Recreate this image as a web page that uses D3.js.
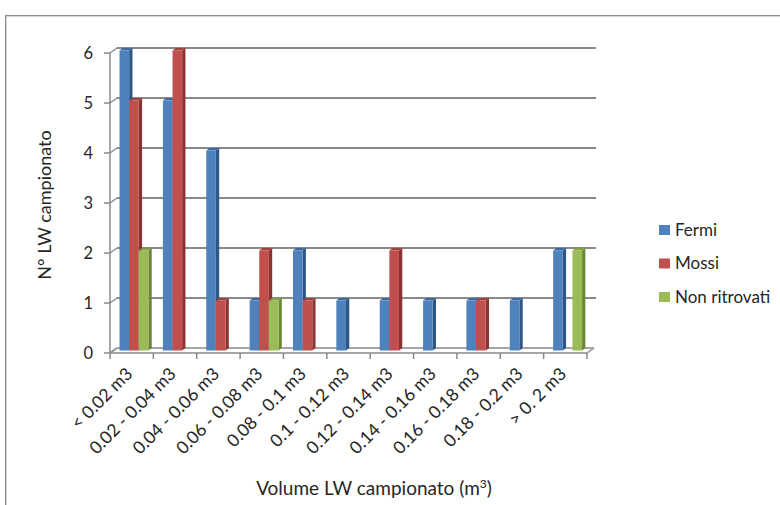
<!DOCTYPE html>
<html>
<head>
<meta charset="utf-8">
<script src="https://cdn.jsdelivr.net/npm/d3@7"></script>
<style>
  html, body { margin: 0; padding: 0; background: #fff; }
  svg { display: block; font-family: Lato, "Open Sans", sans-serif; }
</style>
</head>
<body>
<svg id="chart" width="780" height="505"></svg>
<script>
// Volume classes of sampled large wood
const categories = ["< 0.02 m3", "0.02 - 0.04 m3", "0.04 - 0.06 m3", "0.06 - 0.08 m3",
  "0.08 - 0.1 m3", "0.1 - 0.12 m3", "0.12 - 0.14 m3", "0.14 - 0.16 m3",
  "0.16 - 0.18 m3", "0.18 - 0.2 m3", "> 0. 2 m3"];
const seriesNames = ["Fermi", "Mossi", "Non ritrovati"];
const fermi = [6, 5, 4, 1, 2, 1, 1, 1, 1, 1, 2];
const mossi = [5, 6, 1, 2, 1, 0, 2, 0, 1, 0, 0];
const nonRitrovati = [2, 0, 0, 1, 0, 0, 0, 0, 0, 0, 2];
const yTicks = [0, 1, 2, 3, 4, 5, 6];

const seriesValues = [fermi, mossi, nonRitrovati];
const colors = {
  front: ["#4F81BD", "#C0504D", "#9BBB59"],
  side:  ["#2F5785", "#8A3432", "#6A8636"],
  top:   ["#3D6A9E", "#A1413E", "#80A045"]
};

const svg = d3.select("#chart");

// chart frame
svg.append("rect").attr("x", 5.5).attr("y", 15.5).attr("width", 800).attr("height", 600)
  .attr("fill", "none").attr("stroke", "#8c8c8c").attr("stroke-width", 1);
svg.append("rect").attr("x", 6.5).attr("y", 16.5).attr("width", 800).attr("height", 600)
  .attr("fill", "none").attr("stroke", "#d4d4d4").attr("stroke-width", 1);

// plot geometry
const x = d3.scaleBand().domain(categories).range([110, 587]).padding(0);
const xs = d3.scaleBand().domain(seriesNames).range([0, x.bandwidth()])
  .paddingInner(0).paddingOuter(0.75);
const y = d3.scaleLinear().domain([0, 6]).range([353, 53]);

const wall = { dx: 7, dy: -5 };     // depth of back wall
const shift = { dx: 2.3, dy: -2.5 }; // bars sit inside the depth
const bd = { dx: 3.3, dy: -2.4 };    // bar thickness

const grid = "#8a8a8a";
const x0 = x.range()[0], x1 = x.range()[1];

// back wall gridlines
svg.append("g").selectAll("line").data(yTicks.filter(d => d > 0)).join("line")
  .attr("x1", x0 + wall.dx).attr("x2", x1 + wall.dx + 2)
  .attr("y1", d => y(d) + wall.dy).attr("y2", d => y(d) + wall.dy)
  .attr("stroke", grid).attr("stroke-width", 2);

// floor
const floor = svg.append("g").attr("fill", "none").attr("stroke", "#a6a6a6").attr("stroke-width", 2);
floor.append("line").attr("x1", x0 + wall.dx).attr("x2", x1 + wall.dx)
  .attr("y1", y(0) + wall.dy).attr("y2", y(0) + wall.dy);
floor.append("line").attr("x1", x1).attr("x2", x1 + wall.dx)
  .attr("y1", y(0)).attr("y2", y(0) + wall.dy);
floor.append("line").attr("x1", x0).attr("x2", x0 + wall.dx)
  .attr("y1", y(0)).attr("y2", y(0) + wall.dy);

// y axis with depth connectors
const yAxis = svg.append("g");
yAxis.append("line").attr("x1", x0).attr("x2", x0).attr("y1", y(6)).attr("y2", y(0))
  .attr("stroke", grid).attr("stroke-width", 1.5);
yAxis.selectAll(".tk").data(yTicks).join("line").attr("class", "tk")
  .attr("x1", x0 - 6).attr("x2", x0).attr("y1", d => y(d)).attr("y2", d => y(d))
  .attr("stroke", grid).attr("stroke-width", 1.5);
yAxis.selectAll(".dg").data(yTicks).join("line").attr("class", "dg")
  .attr("x1", x0).attr("x2", x0 + wall.dx).attr("y1", d => y(d)).attr("y2", d => y(d) + wall.dy)
  .attr("stroke", grid).attr("stroke-width", 1.5);
yAxis.selectAll("text").data(yTicks).join("text")
  .attr("x", 93).attr("y", d => y(d)).attr("dy", "0.35em")
  .attr("text-anchor", "end").attr("font-size", 16.5).attr("fill", "#262626")
  .text(d => d);

// bars
const bars = svg.append("g");
categories.forEach((c, i) => {
  seriesNames.forEach((s, j) => {
    const v = seriesValues[j][i];
    if (!v) return;
    const bx = x(c) + xs(s) + shift.dx;
    const bw = xs.bandwidth();
    const top = y(v) + shift.dy;
    const bot = y(0) + shift.dy;
    const g = bars.append("g");
    // side face
    g.append("path")
      .attr("d", `M${bx + bw},${bot} L${bx + bw + bd.dx},${bot + bd.dy} L${bx + bw + bd.dx},${top + bd.dy} L${bx + bw},${top} Z`)
      .attr("fill", colors.side[j]);
    // top face
    g.append("path")
      .attr("d", `M${bx},${top} L${bx + bd.dx},${top + bd.dy} L${bx + bw + bd.dx},${top + bd.dy} L${bx + bw},${top} Z`)
      .attr("fill", colors.top[j]);
    // front face
    g.append("rect").attr("x", bx).attr("y", top).attr("width", bw).attr("height", bot - top)
      .attr("fill", colors.front[j]);
  });
});

// x axis
const xAxis = svg.append("g");
xAxis.append("line").attr("x1", x0).attr("x2", x1).attr("y1", y(0)).attr("y2", y(0))
  .attr("stroke", grid).attr("stroke-width", 1.5);
const bounds = categories.map(c => x(c)).concat([x1]);
xAxis.selectAll(".tk").data(bounds).join("line").attr("class", "tk")
  .attr("x1", d => d).attr("x2", d => d).attr("y1", y(0)).attr("y2", y(0) + 6)
  .attr("stroke", grid).attr("stroke-width", 1.5);
xAxis.selectAll("text").data(categories).join("text")
  .attr("transform", c => `translate(${x(c) + x.bandwidth() / 2 + 2},${y(0) + 22}) rotate(-45)`)
  .attr("text-anchor", "end").attr("font-size", 17.5).attr("fill", "#262626")
  .text(c => c);

// axis titles
svg.append("text")
  .attr("transform", "translate(51,205) rotate(-90)")
  .attr("text-anchor", "middle").attr("font-size", 18).attr("fill", "#262626")
  .text("N° LW campionato");
const xt = svg.append("text").attr("x", 374).attr("y", 495)
  .attr("text-anchor", "middle").attr("font-size", 19).attr("fill", "#262626");
xt.append("tspan").text("Volume LW campionato (m");
xt.append("tspan").attr("font-size", 12).attr("dy", -7).text("3");
xt.append("tspan").attr("dy", 7).text(")");

// legend
const legend = svg.append("g").attr("transform", "translate(659,225)");
seriesNames.forEach((s, j) => {
  const row = legend.append("g").attr("transform", `translate(0,${j * 33.5})`);
  row.append("rect").attr("width", 11).attr("height", 10).attr("fill", colors.front[j]);
  row.append("text").attr("x", 16).attr("y", 5).attr("dy", "0.35em")
    .attr("font-size", 17).attr("fill", "#262626").text(s);
});
</script>
</body>
</html>
